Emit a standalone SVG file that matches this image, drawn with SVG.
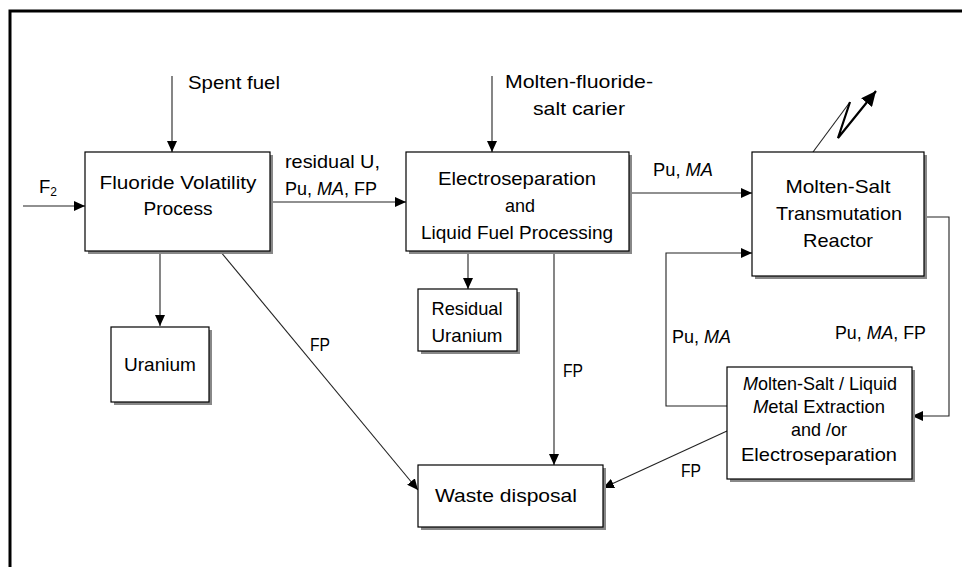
<svg xmlns="http://www.w3.org/2000/svg" width="962" height="567" viewBox="0 0 962 567">
<defs>
<marker id="ah" markerUnits="userSpaceOnUse" markerWidth="12" markerHeight="10" refX="11" refY="5" orient="auto">
<path d="M0,0 L11,5 L0,10 Z" fill="#000"/>
</marker>
<marker id="ahb" markerUnits="userSpaceOnUse" markerWidth="16" markerHeight="14" refX="15" refY="7" orient="auto">
<path d="M0,0 L15,7 L0,14 Z" fill="#000"/>
</marker>
</defs>
<style>
text{font-family:"Comic Sans MS","Liberation Sans",sans-serif;font-size:18.5px;fill:#000}
.box rect.b{fill:#fff;stroke:#000;stroke-width:1.2}
.box rect.s{fill:#888}
.c{fill:none;stroke:#222;stroke-width:1.1}
.m{text-anchor:middle}
</style>
<rect width="962" height="567" fill="#fff"/>
<path d="M10,567 L10,11 L962,11" fill="none" stroke="#000" stroke-width="3"/>

<g id="connectors">
<path class="c" d="M172,76 L172,152" marker-end="url(#ah)"/>
<path class="c" d="M23,206 L85,206" marker-end="url(#ah)"/>
<path class="c" d="M270,202 L406,202" marker-end="url(#ah)"/>
<path class="c" d="M492,76 L492,152" marker-end="url(#ah)"/>
<path class="c" d="M629,193 L752,193" marker-end="url(#ah)"/>
<path class="c" d="M160,251 L160,326" marker-end="url(#ah)"/>
<path class="c" d="M468,251 L468,289" marker-end="url(#ah)"/>
<path class="c" d="M554,251 L554,465" marker-end="url(#ah)"/>
<path class="c" d="M220,251 L418,490" marker-end="url(#ah)"/>
<path class="c" d="M727,431 L603,488" marker-end="url(#ah)"/>
<path class="c" d="M924,217 L949,217 L949,416 L912,416" marker-end="url(#ah)"/>
<path class="c" d="M727,406 L666,406 L666,253 L752,253" marker-end="url(#ah)"/>
<path class="c" d="M813,152 L850,102"/>
<path d="M850,102 L838,138 L876,91" fill="none" stroke="#000" stroke-width="2.2" marker-end="url(#ahb)"/>
</g>

<g id="fluoride" class="box">
<rect class="s" x="88" y="155" width="185" height="99"/>
<rect class="b" x="85" y="152" width="185" height="99"/>
<text class="m" x="178" y="189" textLength="157" lengthAdjust="spacingAndGlyphs">Fluoride Volatility</text>
<text class="m" x="178" y="215" textLength="69" lengthAdjust="spacingAndGlyphs">Process</text>
</g>
<g id="electro" class="box">
<rect class="s" x="409" y="155" width="223" height="99"/>
<rect class="b" x="406" y="152" width="223" height="99"/>
<text class="m" x="517" y="185" textLength="158" lengthAdjust="spacingAndGlyphs">Electroseparation</text>
<text class="m" x="520" y="212" textLength="30" lengthAdjust="spacingAndGlyphs">and</text>
<text class="m" x="517" y="239" textLength="192" lengthAdjust="spacingAndGlyphs">Liquid Fuel Processing</text>
</g>
<g id="reactor" class="box">
<rect class="s" x="755" y="155" width="172" height="124"/>
<rect class="b" x="752" y="152" width="172" height="124"/>
<text class="m" x="838" y="193" textLength="105" lengthAdjust="spacingAndGlyphs">Molten-Salt</text>
<text class="m" x="839" y="220" textLength="126" lengthAdjust="spacingAndGlyphs">Transmutation</text>
<text class="m" x="838" y="247" textLength="70" lengthAdjust="spacingAndGlyphs">Reactor</text>
</g>
<g id="uranium" class="box">
<rect class="s" x="114" y="330" width="98" height="75"/>
<rect class="b" x="111" y="327" width="98" height="75"/>
<text class="m" x="160" y="371" textLength="72" lengthAdjust="spacingAndGlyphs">Uranium</text>
</g>
<g id="residual" class="box">
<rect class="s" x="421" y="292" width="99" height="62"/>
<rect class="b" x="418" y="289" width="99" height="62"/>
<text class="m" x="467" y="315" textLength="71" lengthAdjust="spacingAndGlyphs">Residual</text>
<text class="m" x="467" y="342" textLength="71" lengthAdjust="spacingAndGlyphs">Uranium</text>
</g>
<g id="waste" class="box">
<rect class="s" x="421" y="468" width="185" height="62"/>
<rect class="b" x="418" y="465" width="185" height="62"/>
<text class="m" x="506" y="502" textLength="142" lengthAdjust="spacingAndGlyphs">Waste disposal</text>
</g>
<g id="extraction" class="box">
<rect class="s" x="730" y="370" width="185" height="112"/>
<rect class="b" x="727" y="367" width="185" height="112"/>
<text class="m" x="820" y="390" textLength="154" lengthAdjust="spacingAndGlyphs"><tspan font-style="italic">M</tspan>olten-Salt / Liquid</text>
<text class="m" x="819" y="413" textLength="132" lengthAdjust="spacingAndGlyphs"><tspan font-style="italic">M</tspan>etal Extraction</text>
<text class="m" x="819" y="436" textLength="56" lengthAdjust="spacingAndGlyphs">and /or</text>
<text class="m" x="819" y="461" textLength="156" lengthAdjust="spacingAndGlyphs">Electroseparation</text>
</g>

<g id="labels">
<text x="188" y="89" textLength="92" lengthAdjust="spacingAndGlyphs">Spent fuel</text>
<text x="39" y="193">F<tspan font-size="12" dy="3">2</tspan></text>
<text x="285" y="168" textLength="95" lengthAdjust="spacingAndGlyphs">residual U,</text>
<text x="285" y="195" textLength="92" lengthAdjust="spacingAndGlyphs">Pu, <tspan font-style="italic">MA</tspan>, FP</text>
<text x="505" y="88" textLength="148" lengthAdjust="spacingAndGlyphs">Molten-fluoride-</text>
<text x="533" y="115" textLength="92" lengthAdjust="spacingAndGlyphs">salt carier</text>
<text x="653" y="176" textLength="60" lengthAdjust="spacingAndGlyphs">Pu, <tspan font-style="italic">MA</tspan></text>
<text x="310" y="351" textLength="20" lengthAdjust="spacingAndGlyphs">FP</text>
<text x="563" y="377" textLength="20" lengthAdjust="spacingAndGlyphs">FP</text>
<text x="672" y="343" textLength="59" lengthAdjust="spacingAndGlyphs">Pu, <tspan font-style="italic">MA</tspan></text>
<text x="835" y="339" textLength="91" lengthAdjust="spacingAndGlyphs">Pu, <tspan font-style="italic">MA</tspan>, FP</text>
<text x="681" y="477" textLength="20" lengthAdjust="spacingAndGlyphs">FP</text>
</g>
</svg>
